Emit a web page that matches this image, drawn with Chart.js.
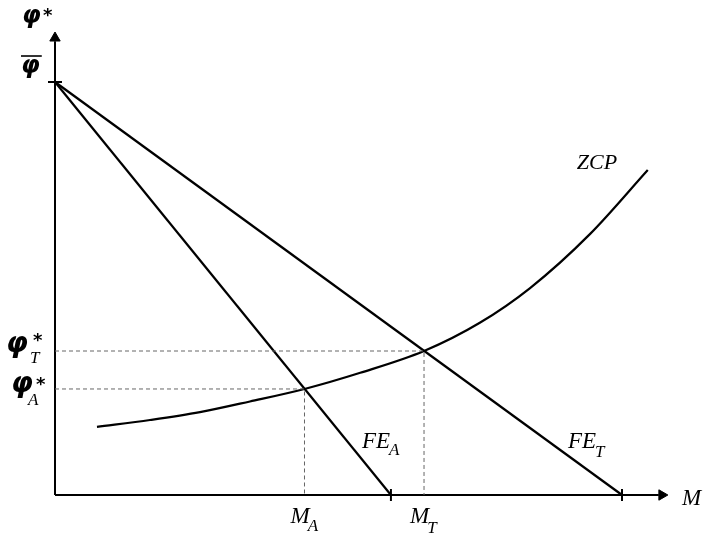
<!DOCTYPE html>
<html>
<head>
<meta charset="utf-8">
<script src="https://cdn.jsdelivr.net/npm/chart.js@4/dist/chart.umd.min.js"></script>
<style>
  html, body { margin: 0; padding: 0; background: #fff; }
  #c { display: block; }
</style>
</head>
<body>
<canvas id="c" width="706" height="537"></canvas>
<script>
// ---- data (abstract units: M on x 0..100, phi* on y 0..100) ----
const axisMax = [100, 100];
const phiBar = 89.2;                 // common intercept of FE lines
const feInterceptA = 54.8;           // FE_A hits M axis
const feInterceptT = 92.5;           // FE_T hits M axis
const phiStarA = 22.9;
const phiStarT = 31.1;
const mA = 40.7;
const mT = 60.2;
const zcpM   = [6.85, 15.5, 23.65, 31.8, 40.7, 49.8, 60.2, 69.3, 77.5, 87.3, 96.7];
const zcpPhi = [14.7, 16.2, 17.9, 20.2, 22.9, 26.4, 31.1, 37.2, 44.7, 56.4, 70.2];

const zcpData = zcpM.map((m, i) => ({ x: m, y: zcpPhi[i] }));
const black = '#000';
const dashGrey = '#666';

const lineDs = (data, extra) => Object.assign({
  data, showLine: true, borderColor: black, borderWidth: 2.2,
  pointRadius: 0, fill: false, clip: false, tension: 0
}, extra || {});

const labelPlugin = {
  id: 'mathLabels',
  afterDatasetsDraw(chart) {
    const { ctx, scales: { x, y } } = chart;
    const x0 = x.getPixelForValue(0), y0 = y.getPixelForValue(0);
    const put = (t, font, px, py) => { ctx.font = font; ctx.fillText(t, px, py); return ctx.measureText(t).width; };
    ctx.save();
    ctx.fillStyle = black;
    ctx.textAlign = 'left';
    ctx.textBaseline = 'alphabetic';
    const phiF = 'italic bold 24px "DejaVu Sans"';
    const phiBig = 'italic bold 28px "DejaVu Sans"';
    const starF = 'bold 18px "DejaVu Sans"';
    const subF = 'italic 17px "Liberation Serif"';
    const mathF = 'italic 23px "Liberation Serif"';

    // phi* at top of vertical axis
    put('\u03C6', phiF, x0 - 33, 23);
    put('*', starF, x0 - 12, 21);

    // phi-bar
    const yb = y.getPixelForValue(phiBar);
    const wBar = put('\u03C6', phiF, x0 - 34, yb - 9);
    ctx.strokeStyle = black; ctx.lineWidth = 1.6;
    ctx.beginPath(); ctx.moveTo(x0 - 34, yb - 26); ctx.lineTo(x0 - 34 + wBar + 2, yb - 26); ctx.stroke();

    // phi*_T
    const yT = y.getPixelForValue(phiStarT);
    put('\u03C6', phiBig, x0 - 49, yT + 1);
    put('*', starF, x0 - 22, yT - 5);
    put('T', subF, x0 - 25, yT + 12);

    // phi*_A
    const yA = y.getPixelForValue(phiStarA);
    put('\u03C6', phiBig, x0 - 44, yA + 3);
    put('*', starF, x0 - 19, yA + 1);
    put('A', subF, x0 - 27, yA + 16);

    // M_A, M_T below axis
    const pA = x.getPixelForValue(mA);
    let w = put('M', mathF, pA - 14, y0 + 28);
    put('A', subF, pA - 14 + w - 2, y0 + 36);
    const pT = x.getPixelForValue(mT);
    w = put('M', mathF, pT - 14, y0 + 28);
    put('T', subF, pT - 14 + w - 2, y0 + 38);

    // axis label M
    put('M', mathF, x.getPixelForValue(axisMax[0]) + 14, y0 + 10);

    // FE labels
    const fA = x.getPixelForValue(feInterceptA);
    w = put('FE', mathF, fA - 29, y0 - 47);
    put('A', subF, fA - 29 + w - 1, y0 - 40);
    const fT = x.getPixelForValue(feInterceptT);
    w = put('FE', mathF, fT - 54, y0 - 47);
    put('T', subF, fT - 54 + w - 1, y0 - 38);

    // ZCP label
    const zEnd = zcpData[zcpData.length - 1];
    put('ZCP', 'italic 22px "Liberation Serif"', x.getPixelForValue(zEnd.x) - 71, y.getPixelForValue(zEnd.y) - 1);
    ctx.restore();
  }
};

new Chart(document.getElementById('c'), {
  type: 'scatter',
  data: {
    datasets: [
      // dashed guides
      lineDs([{ x: 0, y: phiStarT }, { x: mT, y: phiStarT }, { x: mT, y: 0 }],
             { borderColor: dashGrey, borderWidth: 1, borderDash: [4, 3] }),
      lineDs([{ x: 0, y: phiStarA }, { x: mA, y: phiStarA }, { x: mA, y: 0 }],
             { borderColor: dashGrey, borderWidth: 1, borderDash: [4, 3] }),
      // axes
      lineDs([{ x: 0, y: 0 }, { x: axisMax[0] - 1.5, y: 0 }], { borderWidth: 2 }),
      lineDs([{ x: 0, y: 0 }, { x: 0, y: axisMax[1] - 2 }], { borderWidth: 2 }),
      // arrow heads
      { data: [{ x: axisMax[0] - 1, y: 0 }], pointStyle: 'triangle', rotation: 90, pointRadius: 6,
        backgroundColor: black, borderColor: black, borderWidth: 1, clip: false },
      { data: [{ x: 0, y: axisMax[1] - 1.3 }], pointStyle: 'triangle', rotation: 0, pointRadius: 6,
        backgroundColor: black, borderColor: black, borderWidth: 1, clip: false },
      // FE lines
      lineDs([{ x: 0, y: phiBar }, { x: feInterceptA, y: 0 }]),
      lineDs([{ x: 0, y: phiBar }, { x: feInterceptT, y: 0 }]),
      // ZCP curve
      lineDs(zcpData, { cubicInterpolationMode: 'monotone' }),
      // tick marks
      { data: [{ x: feInterceptA, y: 0 }, { x: feInterceptT, y: 0 }], pointStyle: 'line', rotation: 90,
        pointRadius: 6, borderColor: black, borderWidth: 2, clip: false },
      { data: [{ x: 0, y: phiBar }], pointStyle: 'line', rotation: 0,
        pointRadius: 7, borderColor: black, borderWidth: 2, clip: false }
    ]
  },
  options: {
    responsive: false,
    animation: false,
    events: [],
    layout: { padding: { left: 55, right: 38, top: 32, bottom: 42 } },
    scales: {
      x: { type: 'linear', min: 0, max: axisMax[0], display: false },
      y: { type: 'linear', min: 0, max: axisMax[1], display: false }
    },
    plugins: { legend: { display: false }, tooltip: { enabled: false } }
  },
  plugins: [labelPlugin]
});
</script>
</body>
</html>
